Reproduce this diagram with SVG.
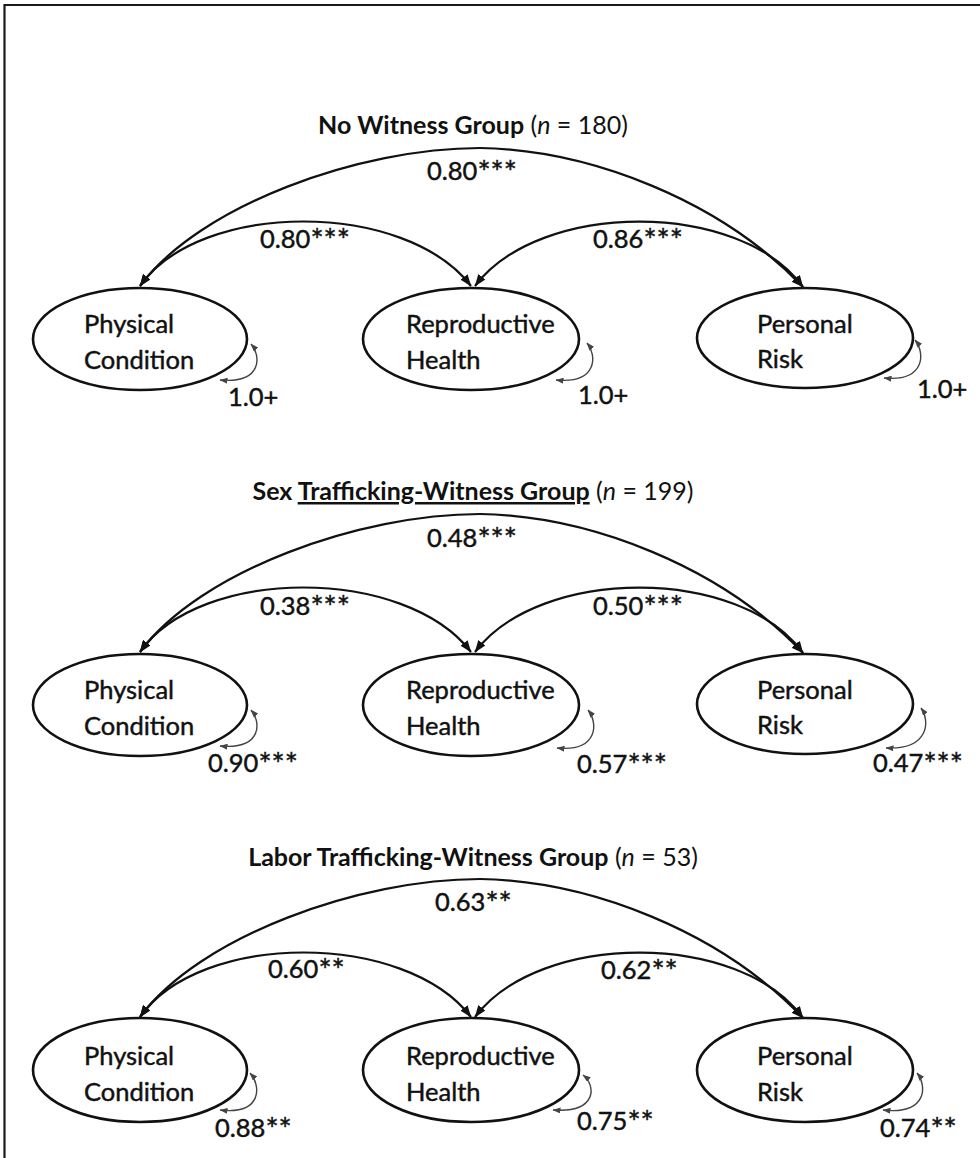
<svg xmlns="http://www.w3.org/2000/svg" width="980" height="1158" viewBox="0 0 980 1158">
<style>
.bg{fill:#ffffff}
.frame{stroke:#1a1a1a;stroke-width:2.2;fill:none}
.ell{fill:#ffffff;stroke:#111;stroke-width:2.6}
.nt{font-family:Lato,"Liberation Sans",sans-serif;font-size:25.5px;fill:#111;stroke:#111;stroke-width:0.45}
.lb{font-family:Lato,"Liberation Sans",sans-serif;font-size:25.5px;fill:#111;stroke:#111;stroke-width:0.45}
.st{font-size:31px}
.tt{font-family:Lato,"Liberation Sans",sans-serif;font-size:25px;fill:#111;text-anchor:middle}
.b{font-weight:bold}
.arc{fill:none;stroke:#111;stroke-width:2.2;marker-start:url(#ah);marker-end:url(#ah)}
.loop{fill:none;stroke:#444;stroke-width:1.4;marker-start:url(#sh);marker-end:url(#sh)}
</style>
<defs>
<marker id="ah" viewBox="0 0 12 9" refX="11.5" refY="4.5" markerWidth="12" markerHeight="9" markerUnits="userSpaceOnUse" orient="auto-start-reverse"><path d="M0,0 L12,4.5 L0,9 z" fill="#111"/></marker>
<marker id="sh" viewBox="0 0 8 6" refX="7.5" refY="3" markerWidth="8" markerHeight="6" markerUnits="userSpaceOnUse" orient="auto-start-reverse"><path d="M0,0 L8,3 L0,6 z" fill="#444"/></marker>
</defs>
<rect class="bg" x="0" y="0" width="980" height="1158"/>
<path class="frame" d="M4.5,1158 L4.5,5 L980,5"/>

<!-- Panel 1 -->
<g id="panel1">
<text class="tt" x="473" y="134"><tspan class="b">No Witness Group</tspan> (<tspan font-style="italic">n</tspan> = 180)</text>
<g id="connectors1">
<path class="arc" d="M140,286 C200,205 360,148 480,148 C590,150 720,200 803,287"/>
<path class="arc" d="M140,286 C200,200 405,200 471,286"/>
<path class="arc" d="M475,286 C540,200 740,200 803,287"/>
<path class="loop" d="M251,344 C261,355 263,384 220,380"/>
<path class="loop" d="M587,343 C597,355 598,384 556,380"/>
<path class="loop" d="M915,340 C925,352 926,382 884,378"/>
</g>
<g id="p1-physical"><ellipse class="ell" cx="140" cy="339" rx="107" ry="51"/><text class="nt" x="84" y="333">Physical</text><text class="nt" x="84" y="369">Condition</text></g>
<g id="p1-reproductive"><ellipse class="ell" cx="471" cy="339" rx="108" ry="51"/><text class="nt" x="406" y="333">Reproductive</text><text class="nt" x="406" y="369">Health</text></g>
<g id="p1-personal"><ellipse class="ell" cx="805" cy="338" rx="108" ry="50"/><text class="nt" x="757" y="333">Personal</text><text class="nt" x="757" y="368">Risk</text></g>
<g id="p1-labels">
<text class="lb" x="427" y="180">0.80<tspan class="st" dy="3">***</tspan></text>
<text class="lb" x="260" y="248">0.80<tspan class="st" dy="3">***</tspan></text>
<text class="lb" x="593" y="248">0.86<tspan class="st" dy="3">***</tspan></text>
<text class="lb" x="228" y="406">1.0+</text>
<text class="lb" x="578" y="404">1.0+</text>
<text class="lb" x="917" y="398">1.0+</text>
</g>
</g>

<!-- Panel 2 -->
<g id="panel2" transform="translate(0,366)">
<text class="tt" x="473" y="134"><tspan class="b">Sex </tspan><tspan class="b" style="text-decoration:underline">Trafficking-Witness Group</tspan> (<tspan font-style="italic">n</tspan> = 199)</text>
<g id="connectors2">
<path class="arc" d="M140,286 C200,205 360,148 480,148 C590,150 720,200 803,287"/>
<path class="arc" d="M140,286 C200,200 405,200 471,286"/>
<path class="arc" d="M475,286 C540,200 740,200 803,287"/>
<path class="loop" d="M251,344 C261,355 263,384 220,380"/>
<path class="loop" d="M588,344 C598,356 599,386 557,382"/>
<path class="loop" d="M921,342 C930,354 930,384 886,382"/>
</g>
<g id="p2-physical"><ellipse class="ell" cx="140" cy="339" rx="107" ry="51"/><text class="nt" x="84" y="333">Physical</text><text class="nt" x="84" y="369">Condition</text></g>
<g id="p2-reproductive"><ellipse class="ell" cx="471" cy="339" rx="108" ry="51"/><text class="nt" x="406" y="333">Reproductive</text><text class="nt" x="406" y="369">Health</text></g>
<g id="p2-personal"><ellipse class="ell" cx="805" cy="338" rx="108" ry="50"/><text class="nt" x="757" y="333">Personal</text><text class="nt" x="757" y="368">Risk</text></g>
<g id="p2-labels">
<text class="lb" x="427" y="181">0.48<tspan class="st" dy="3">***</tspan></text>
<text class="lb" x="260" y="249">0.38<tspan class="st" dy="3">***</tspan></text>
<text class="lb" x="593" y="249">0.50<tspan class="st" dy="3">***</tspan></text>
<text class="lb" x="208" y="406">0.90<tspan class="st" dy="3">***</tspan></text>
<text class="lb" x="577" y="407">0.57<tspan class="st" dy="3">***</tspan></text>
<text class="lb" x="873" y="406">0.47<tspan class="st" dy="3">***</tspan></text>
</g>
</g>

<!-- Panel 3 -->
<g id="panel3" transform="translate(0,731)">
<text class="tt" x="473" y="135"><tspan class="b">Labor Trafficking-Witness Group</tspan> (<tspan font-style="italic">n</tspan> = 53)</text>
<g id="connectors3">
<path class="arc" d="M140,286 C200,205 360,148 480,148 C590,150 720,200 803,287"/>
<path class="arc" d="M140,286 C200,200 405,200 471,286"/>
<path class="arc" d="M475,286 C540,200 740,200 803,287"/>
<path class="loop" d="M250,342 C261,354 263,384 220,379"/>
<path class="loop" d="M583,344 C596,354 598,382 553,379"/>
<path class="loop" d="M917,342 C927,354 928,384 883,379"/>
</g>
<g id="p3-physical"><ellipse class="ell" cx="140" cy="339" rx="107" ry="52"/><text class="nt" x="84" y="334">Physical</text><text class="nt" x="84" y="370">Condition</text></g>
<g id="p3-reproductive"><ellipse class="ell" cx="471" cy="339" rx="108" ry="52"/><text class="nt" x="406" y="334">Reproductive</text><text class="nt" x="406" y="370">Health</text></g>
<g id="p3-personal"><ellipse class="ell" cx="805" cy="339" rx="108" ry="52"/><text class="nt" x="757" y="334">Personal</text><text class="nt" x="757" y="370">Risk</text></g>
<g id="p3-labels">
<text class="lb" x="435" y="180">0.63<tspan class="st" dy="3">**</tspan></text>
<text class="lb" x="268" y="247">0.60<tspan class="st" dy="3">**</tspan></text>
<text class="lb" x="601" y="248">0.62<tspan class="st" dy="3">**</tspan></text>
<text class="lb" x="215" y="406">0.88<tspan class="st" dy="3">**</tspan></text>
<text class="lb" x="577" y="399">0.75<tspan class="st" dy="3">**</tspan></text>
<text class="lb" x="880" y="406">0.74<tspan class="st" dy="3">**</tspan></text>
</g>
</g>
</svg>
